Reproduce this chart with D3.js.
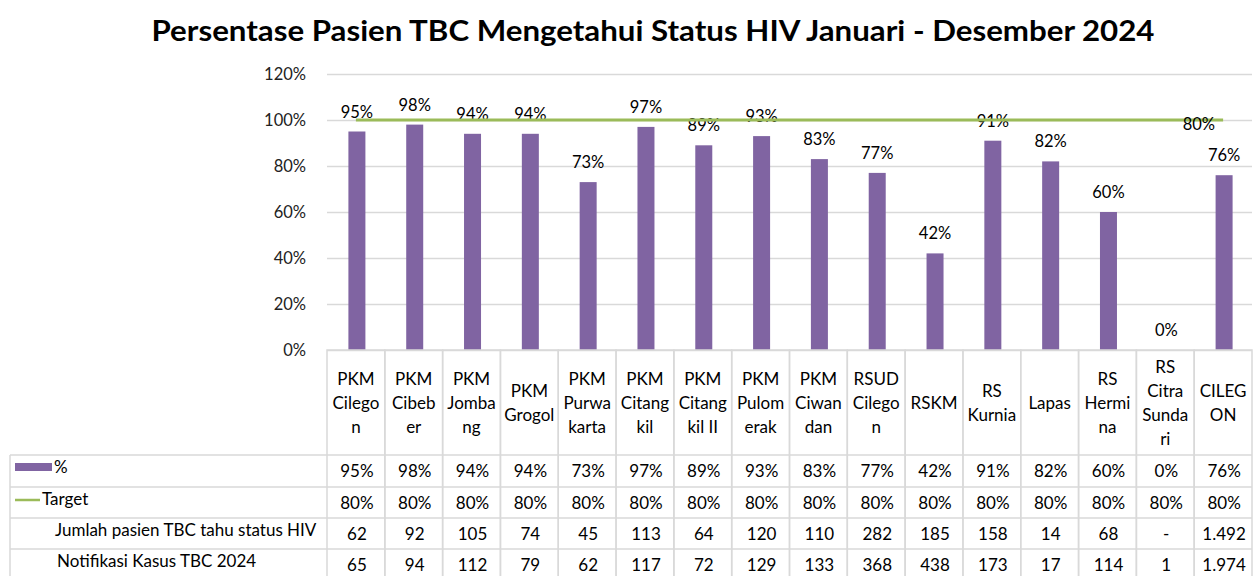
<!DOCTYPE html>
<html>
<head>
<meta charset="UTF-8">
<title>Persentase Pasien TBC</title>
<script src="https://cdn.jsdelivr.net/npm/d3@7/dist/d3.min.js"></script>
<style>
body { margin: 0; background: #fff; }
svg text { font-family: Lato, "Liberation Sans", sans-serif; fill: #000; }
.grid line { stroke: #d9d9d9; stroke-width: 1.5px; }
.grid path { display: none; }
.yaxis path, .yaxis line { display: none; }
.cell { stroke: #d9d9d9; stroke-width: 1.5px; fill: none; }
</style>
</head>
<body>
<svg id="chart" width="1257" height="576"></svg>
<script>
var categories = ["PKM Cilegon", "PKM Cibeber", "PKM Jombang", "PKM Grogol", "PKM Purwakarta",
  "PKM Citangkil", "PKM Citangkil II", "PKM Pulomerak", "PKM Ciwandan", "RSUD Cilegon",
  "RSKM", "RS Kurnia", "Lapas", "RS Hermina", "RS Citra Sundari", "CILEGON"];
// category text as wrapped in the table header
var headerLines = [["PKM","Cilego","n"], ["PKM","Cibeb","er"], ["PKM","Jomba","ng"], ["PKM","Grogol"],
  ["PKM","Purwa","karta"], ["PKM","Citang","kil"], ["PKM","Citang","kil II"], ["PKM","Pulom","erak"],
  ["PKM","Ciwan","dan"], ["RSUD","Cilego","n"], ["RSKM"], ["RS","Kurnia"], ["Lapas"], ["RS","Hermi","na"],
  ["RS","Citra","Sunda","ri"], ["CILEG","ON"]];
var persen = [0.95, 0.98, 0.94, 0.94, 0.73, 0.97, 0.89, 0.93, 0.83, 0.77, 0.42, 0.91, 0.82, 0.60, 0.00, 0.76];
var target = [0.8, 0.8, 0.8, 0.8, 0.8, 0.8, 0.8, 0.8, 0.8, 0.8, 0.8, 0.8, 0.8, 0.8, 0.8, 0.8];
var jumlahTahu = ["62", "92", "105", "74", "45", "113", "64", "120", "110", "282", "185", "158", "14", "68", "-", "1.492"];
var notifikasi = ["65", "94", "112", "79", "62", "117", "72", "129", "133", "368", "438", "173", "17", "114", "1", "1.974"];
var yTicks = [0, 0.2, 0.4, 0.6, 0.8, 1.0, 1.2];

var svg = d3.select("#chart");
var pct = d3.format(".0%");

var x = d3.scaleBand().domain(categories).range([327, 1252]);
var y = d3.scaleLinear().domain([0, 1.2]).range([350, 74]);
// target series sits on a hidden secondary axis in the original
var y2 = d3.scaleLinear().domain([0, 0.8]).range([y(0), y(1)]);

// title
svg.append("text")
  .attr("x", 653).attr("y", 41)
  .attr("text-anchor", "middle")
  .style("font-size", "28px").style("font-weight", "bold")
  .attr("textLength", 1003).attr("lengthAdjust", "spacingAndGlyphs")
  .text("Persentase Pasien TBC Mengetahui Status HIV Januari - Desember 2024");

// gridlines
svg.append("g").attr("class", "grid")
  .attr("transform", "translate(327,0)")
  .call(d3.axisRight(y).tickValues(yTicks).tickSize(925).tickFormat(""));

svg.append("g").attr("class", "yaxis")
  .attr("transform", "translate(306,0)")
  .call(d3.axisLeft(y).tickValues(yTicks).tickSize(0).tickPadding(0).tickFormat(pct))
  .selectAll("text").style("font-size", "16.5px").style("fill", "#222");

// bars
var barW = 17;
svg.selectAll("rect.bar").data(persen).enter().append("rect")
  .attr("class", "bar")
  .attr("x", function(d, i) { return x(categories[i]) + x.bandwidth() / 2 - barW / 2 + 1; })
  .attr("y", function(d) { return y(d); })
  .attr("width", barW)
  .attr("height", function(d) { return y(0) - y(d); })
  .attr("fill", "#8064a2");

svg.selectAll("text.blabel").data(persen).enter().append("text")
  .attr("class", "blabel")
  .attr("x", function(d, i) { return x(categories[i]) + x.bandwidth() / 2 + 1; })
  .attr("y", function(d) { return y(d) - 14; })
  .attr("text-anchor", "middle")
  .style("font-size", "16.5px")
  .text(function(d) { return pct(d); });

// target line
var line = d3.line()
  .x(function(d, i) { return x(categories[i]) + x.bandwidth() / 2; })
  .y(function(d) { return y2(d); });
svg.append("path").datum(target)
  .attr("d", line)
  .attr("fill", "none").attr("stroke", "#9bbb59").attr("stroke-width", 3);

var last = target.length - 1;
svg.append("text")
  .attr("x", x(categories[last]) + x.bandwidth() / 2 - 8)
  .attr("y", y2(target[last]) + 10)
  .attr("text-anchor", "end")
  .style("font-size", "16.5px")
  .text(pct(target[last]));

// data table
var rowTop = [350, 455, 487, 518, 549];
var rowBot = [455, 487, 518, 549, 580];
var tbl = svg.append("g");

// header cells
categories.forEach(function(c, i) {
  var cx = x(c) + x.bandwidth() / 2;
  tbl.append("rect").attr("class", "cell")
    .attr("x", x(c)).attr("y", rowTop[0])
    .attr("width", x.bandwidth()).attr("height", rowBot[4] - rowTop[0]);
  var lines = headerLines[i];
  var y0 = 403 - (lines.length - 1) * 12;
  lines.forEach(function(t, k) {
    tbl.append("text").attr("x", cx).attr("y", y0 + k * 24 + 6)
      .attr("text-anchor", "middle").style("font-size", "17px").text(t);
  });
});

// row lines
[455, 487, 518, 549].forEach(function(yy) {
  tbl.append("line").attr("class", "cell")
    .attr("x1", 10).attr("x2", 1252).attr("y1", yy).attr("y2", yy);
});
tbl.append("line").attr("class", "cell").attr("x1", 10).attr("x2", 10).attr("y1", 455).attr("y2", 580);

var rows = [persen.map(pct), target.map(pct), jumlahTahu, notifikasi];
rows.forEach(function(r, ri) {
  var yy = (rowTop[ri + 1] + rowBot[ri + 1]) / 2 + 6;
  r.forEach(function(v, i) {
    tbl.append("text").attr("x", x(categories[i]) + x.bandwidth() / 2 + 1).attr("y", yy)
      .attr("text-anchor", "middle").style("font-size", "17px").text(v);
  });
});

// legend column
tbl.append("rect").attr("x", 15).attr("y", 463).attr("width", 37).attr("height", 8).attr("fill", "#8064a2");
tbl.append("text").attr("x", 54).attr("y", 473).style("font-size", "17px").text("%");
tbl.append("line").attr("x1", 15).attr("x2", 40).attr("y1", 500).attr("y2", 500)
  .attr("stroke", "#9bbb59").attr("stroke-width", 2.5);
tbl.append("text").attr("x", 42).attr("y", 505).style("font-size", "17px").text("Target");
tbl.append("text").attr("x", 55).attr("y", 536).style("font-size", "17px").text("Jumlah pasien TBC tahu status HIV");
tbl.append("text").attr("x", 57).attr("y", 567).style("font-size", "17px").text("Notifikasi Kasus TBC 2024");
</script>
</body>
</html>
